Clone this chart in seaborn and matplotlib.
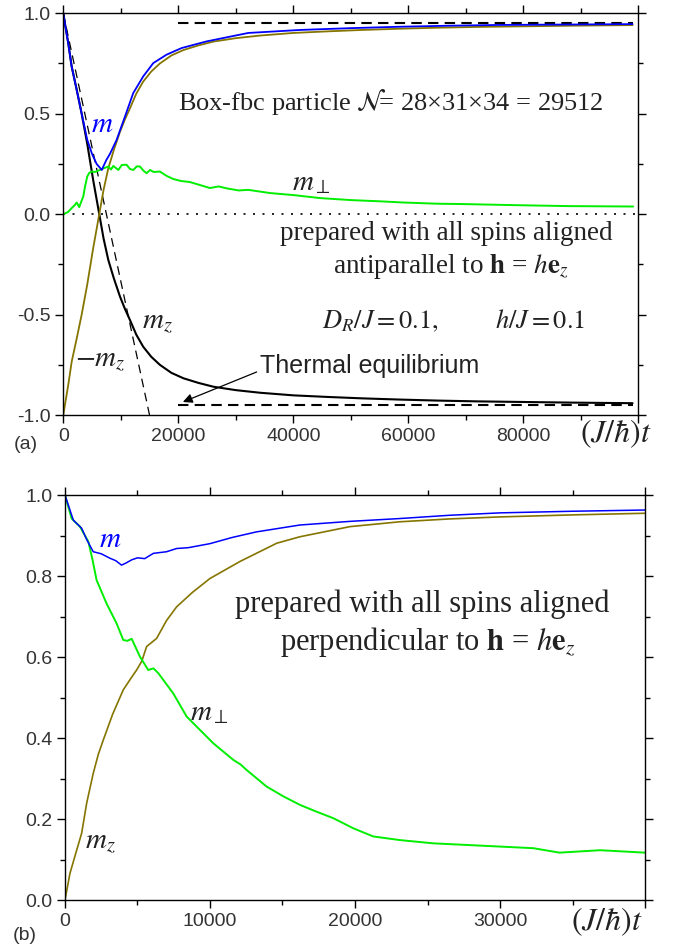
import numpy as np
import pandas as pd
import matplotlib
matplotlib.use("Agg")
import matplotlib.pyplot as plt
import seaborn as sns

# ---------------- data: panel (a) ----------------
ta_mz = [0, 400, 870, 1460, 2330, 3200, 4170, 5200, 6260, 7000, 7830, 8800, 9860, 10700,
         11600, 12700, 13900, 15300, 16800, 18800, 20900, 23500, 26100, 30000, 34200, 40000,
         46000, 52000, 58500, 65000, 72000, 80000, 88000, 95000, 99000]
a_mz = [1.0, 0.93, 0.85, 0.735, 0.62, 0.50, 0.35, 0.17, 0.0, -0.12, -0.228, -0.32, -0.41, -0.47,
        -0.527, -0.60, -0.66, -0.71, -0.75, -0.79, -0.817, -0.84, -0.859, -0.876, -0.889, -0.902,
        -0.91, -0.917, -0.923, -0.928, -0.932, -0.935, -0.938, -0.94, -0.941]

ta_m = [0, 400, 870, 1460, 2330, 3200, 4170, 5000, 5800, 6400, 6700, 6960, 7500, 8120, 9280,
        10730, 12170, 13910, 15650, 17970, 20590, 24930, 32170, 41200, 50000, 58600, 67000,
        76000, 88000, 99000]
a_m = [1.0, 0.93, 0.85, 0.735, 0.62, 0.50, 0.37, 0.30, 0.25, 0.23, 0.22, 0.237, 0.27, 0.30, 0.37,
       0.486, 0.603, 0.686, 0.752, 0.794, 0.827, 0.86, 0.902, 0.917, 0.926, 0.933, 0.938,
       0.942, 0.944, 0.946]

ta_perp = [0, 800, 1460, 2000, 2330, 2780, 3100, 3480, 3800, 4170, 4500, 4930, 5500, 6380, 7000,
           7830, 8300, 8700, 9570, 10200, 11010, 11600, 12170, 12800, 13330, 14000, 14490, 15100,
           15700, 16800, 18000, 19130, 20500, 22000, 23770, 25500, 27000, 28500, 30500, 32170,
           35950, 40000, 44640, 50000, 55000, 59100, 65000, 70000, 76500, 82000, 88000, 94000, 99100]
a_perp = [0.0, 0.01, 0.03, 0.045, 0.058, 0.035, 0.06, 0.088, 0.14, 0.187, 0.205, 0.212, 0.21, 0.22,
          0.228, 0.237, 0.222, 0.24, 0.22, 0.245, 0.246, 0.225, 0.22, 0.238, 0.237, 0.215, 0.204,
          0.22, 0.21, 0.212, 0.19, 0.175, 0.165, 0.16, 0.145, 0.13, 0.138, 0.128, 0.118, 0.121,
          0.105, 0.095, 0.08, 0.07, 0.064, 0.058, 0.052, 0.05, 0.046, 0.043, 0.04, 0.039, 0.038]

a_slope_t = [0, 15000]
a_slope_v = [1.0, -1.0]
a_eq_t = [20000, 99000]
a_eq_v = [0.95, -0.95]

a_xticks = [0, 20000, 40000, 60000, 80000, 100000]
a_xlabels = ["0", "20000", "40000", "60000", "80000", ""]
a_yticks = [-1.0, -0.5, 0.0, 0.5, 1.0]
a_ylabels = ["-1.0", "-0.5", "0.0", "0.5", "1.0"]

# ---------------- data: panel (b) ----------------
tb_m = [0, 575, 1150, 1500, 1950, 2500, 3100, 3500, 3900, 4200, 4600, 5000, 5500, 6090, 7000,
        7700, 8500, 10000, 11500, 13200, 16200, 19650, 23100, 26500, 30000, 35000, 40000]
b_m = [1.0, 0.938, 0.918, 0.89, 0.86, 0.855, 0.844, 0.838, 0.827, 0.832, 0.84, 0.845, 0.843, 0.856,
       0.86, 0.868, 0.87, 0.88, 0.895, 0.909, 0.926, 0.935, 0.942, 0.95, 0.956, 0.96, 0.963]

tb_mz = [0, 345, 700, 1150, 1500, 1950, 2300, 2640, 3300, 4020, 4500, 4940, 5300, 5630, 6320,
         7000, 7700, 8800, 10000, 12070, 14600, 16200, 19650, 23100, 26500, 30000, 35000, 40000]
b_mz = [0.0, 0.066, 0.11, 0.165, 0.24, 0.313, 0.36, 0.395, 0.46, 0.519, 0.545, 0.568, 0.59, 0.626,
        0.646, 0.69, 0.724, 0.76, 0.794, 0.836, 0.881, 0.897, 0.922, 0.934, 0.941, 0.946, 0.951, 0.955]

tb_perp = [0, 460, 1030, 1610, 1900, 2180, 2870, 3560, 4020, 4300, 4600, 5170, 5740, 6100, 6440,
           7470, 8390, 9310, 10230, 11610, 12100, 12530, 13910, 15060, 16200, 17360, 18510, 19890,
           21260, 23100, 25400, 27700, 30000, 32300, 34100, 36900, 40000]
b_perp = [1.0, 0.942, 0.922, 0.885, 0.84, 0.79, 0.732, 0.683, 0.642, 0.64, 0.645, 0.601, 0.568,
          0.572, 0.56, 0.51, 0.453, 0.42, 0.387, 0.346, 0.335, 0.321, 0.28, 0.256, 0.235, 0.218,
          0.202, 0.177, 0.157, 0.148, 0.14, 0.136, 0.132, 0.128, 0.117, 0.123, 0.117]

b_xticks = [0, 10000, 20000, 30000, 40000]
b_xlabels = ["0", "10000", "20000", "30000", ""]
b_yticks = [0.0, 0.2, 0.4, 0.6, 0.8, 1.0]
b_ylabels = ["0.0", "0.2", "0.4", "0.6", "0.8", "1.0"]

# ---------------- style ----------------
sns.set_theme(style="ticks")
plt.rcParams["font.family"] = ["Liberation Sans", "DejaVu Sans"]
plt.rcParams["mathtext.fontset"] = "stix"
plt.rcParams["axes.linewidth"] = 1.0

BLUE = "#0000ff"
OLIVE = "#857500"
GREEN = "#00ee00"
TXT = "#222222"
SERIF = ["Liberation Serif", "DejaVu Serif"]

fig = plt.figure(figsize=(6.84, 9.48), dpi=100)
ax1 = fig.add_axes([0.0925, 0.5622, 0.8407, 0.4238])
ax2 = fig.add_axes([0.095, 0.0506, 0.848, 0.4272])


def line(ax, t, v, color, lw, ls="-"):
    df = pd.DataFrame({"t": t, "v": v})
    sns.lineplot(data=df, x="t", y="v", ax=ax, color=color, lw=lw, linestyle=ls,
                 estimator=None, sort=False, legend=False)


# panel (a)
line(ax1, [0, 100000], [0, 0], "black", 1.2, (0, (1.2, 4.5)))
line(ax1, a_slope_t, a_slope_v, "black", 0.9, (0, (7, 4.5)))
line(ax1, a_eq_t, [a_eq_v[0]] * 2, "black", 1.5, (0, (5, 3)))
line(ax1, a_eq_t, [a_eq_v[1]] * 2, "black", 1.5, (0, (5, 3)))
line(ax1, ta_mz, a_mz, "black", 1.5)
line(ax1, ta_mz, [-v for v in a_mz], OLIVE, 1.3)
line(ax1, ta_perp, a_perp, GREEN, 1.4)
line(ax1, ta_m, a_m, BLUE, 1.3)

ax1.set_xlim(0, 100000)
ax1.set_ylim(-1, 1)
ax1.set_xticks(a_xticks)
ax1.set_xticklabels(a_xlabels)
ax1.set_xticks(np.arange(0, 100001, 10000), minor=True)
ax1.set_yticks(a_yticks)
ax1.set_yticklabels(a_ylabels)
ax1.set_yticks(np.arange(-1, 1.01, 0.25), minor=True)

ax1.text(6730, 0.41, r"$m$", color=BLUE, fontsize=21, ha="center", va="baseline")
ax1.text(19900, 0.518, r"Box-fbc particle $\mathcal{N}\!$= 28×31×34 = 29512", family=SERIF,
         fontsize=19, color=TXT, ha="left", va="baseline")
ax1.text(39800, 0.121, r"$m_\perp$", fontsize=21, color=TXT, ha="left", va="baseline")
ax1.text(66640, -0.128, "prepared with all spins aligned", family=SERIF, fontsize=19.5,
         color=TXT, ha="center", va="baseline")
ax1.text(67430, -0.292, r"antiparallel to $\mathbf{h}$ = $h\mathbf{e}_z$", family=SERIF,
         fontsize=19.5, color=TXT, ha="center", va="baseline")
ax1.text(45000, -0.567, r"$D_R/J = 0.1,$", fontsize=19, color=TXT, ha="left", va="baseline")
ax1.text(75000, -0.567, r"$h/J = 0.1$", fontsize=19, color=TXT, ha="left", va="baseline")
ax1.text(13700, -0.571, r"$m_z$", fontsize=21, color=TXT, ha="left", va="baseline")
ax1.text(2030, -0.76, r"$-m_z$", fontsize=21, color=TXT, ha="left", va="baseline")
ax1.annotate("Thermal equilibrium", xy=(20800, -0.935), xytext=(34200, -0.79),
             fontsize=18, color=TXT, ha="left", va="baseline",
             arrowprops=dict(arrowstyle="-|>", color="black", lw=0.9,
                             shrinkA=0, shrinkB=0, mutation_scale=14,
                             relpos=(0, 0.3)))

# panel (b)
line(ax2, tb_mz, b_mz, OLIVE, 1.2)
line(ax2, tb_perp, b_perp, GREEN, 1.4)
line(ax2, tb_m, b_m, BLUE, 1.1)

ax2.set_xlim(0, 40000)
ax2.set_ylim(0, 1)
ax2.set_xticks(b_xticks)
ax2.set_xticklabels(b_xlabels)
ax2.set_xticks(np.arange(0, 40001, 5000), minor=True)
ax2.set_yticks(b_yticks)
ax2.set_yticklabels(b_ylabels)
ax2.set_yticks(np.arange(0, 1.01, 0.1), minor=True)

ax2.text(3100, 0.872, r"$m$", color=BLUE, fontsize=21, ha="center", va="baseline")
ax2.text(24620, 0.711, "prepared with all spins aligned", family=SERIF, fontsize=22,
         color=TXT, ha="center", va="baseline")
ax2.text(25000, 0.617, r"perpendicular to $\mathbf{h}$ = $h\mathbf{e}_z$", family=SERIF,
         fontsize=22, color=TXT, ha="center", va="baseline")
ax2.text(8620, 0.444, r"$m_\perp$", fontsize=21, color=TXT, ha="left", va="baseline")
ax2.text(1380, 0.128, r"$m_z$", fontsize=21, color=TXT, ha="left", va="baseline")

for ax in (ax1, ax2):
    ax.set_xlabel("")
    ax.set_ylabel("")
    for s in ax.spines.values():
        s.set_visible(True)
        s.set_color("black")
        s.set_linewidth(1.0)
    ax.tick_params(which="both", direction="out", top=True, right=True,
                   labeltop=False, labelright=False, colors="black",
                   labelcolor="#333333", labelsize=14, width=1.0)
    ax.tick_params(which="major", length=6, pad=3)
    ax.tick_params(which="minor", length=3.5)

fig.text(0.9006, 0.5338, r"$(J/\hbar)t$", fontsize=23, color=TXT, ha="center", va="baseline")
fig.text(0.887, 0.019, r"$(J/\hbar)t$", fontsize=23, color=TXT, ha="center", va="baseline")
fig.text(0.02, 0.5306, "(a)", fontsize=14, color="#333333", ha="left", va="center")
fig.text(0.018, 0.0137, "(b)", fontsize=14, color="#333333", ha="left", va="center")

fig.savefig("out.png", dpi=100)
